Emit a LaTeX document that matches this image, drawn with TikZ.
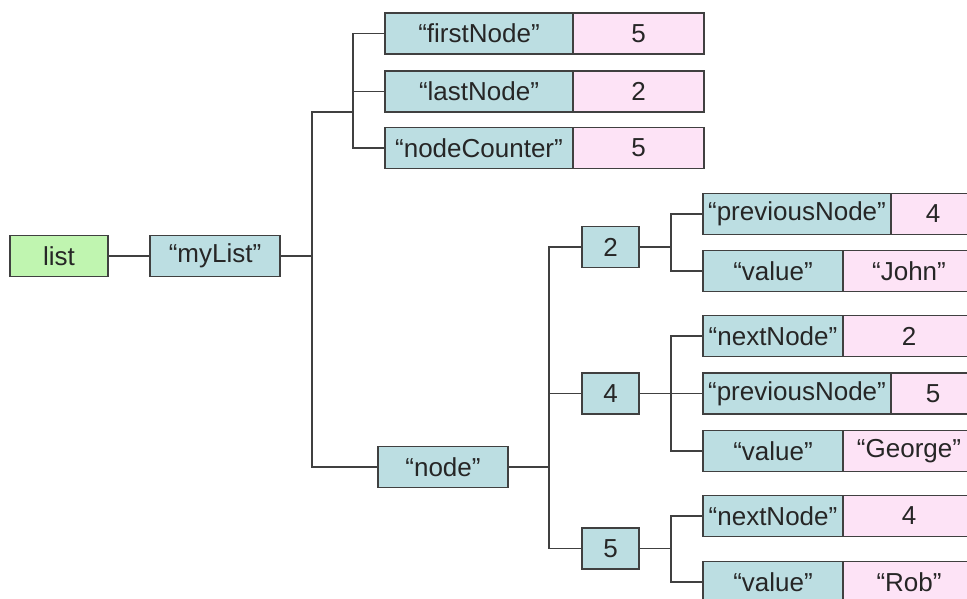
\documentclass[tikz,border=0pt]{standalone}
\usepackage{fontspec}
\setmainfont{Liberation Sans}
\usetikzlibrary{positioning}
\definecolor{keyblue}{RGB}{188,222,226}
\definecolor{valpink}{RGB}{253,227,246}
\definecolor{rootgreen}{RGB}{192,245,176}
\definecolor{linegray}{RGB}{64,64,64}
\tikzset{my_tree/.style={x=1pt,y=-1pt,line width=1.2pt,draw=linegray}}
\tikzset{my_box/.style={draw=linegray, line width=1.2pt, inner sep=0pt, outer sep=0pt, minimum height=41pt, font=\fontsize{26}{30}\selectfont, text=black!85}}
\tikzset{my_key/.style={my_box, fill=keyblue}}
\tikzset{my_value/.style={my_box, fill=valpink}}
\tikzset{my_root/.style={my_box, fill=rootgreen}}

\begin{document}
\begin{tikzpicture}[my_tree]
    %\draw[help lines,step=50] (0,0) grid (967,599);
    \useasboundingbox (0,0) rectangle (967,599);
    \clip (0,0) rectangle (967,599);

    \node[my_root, minimum width=98pt] (list) at (59,256) {list};
    \node[my_key, minimum width=130pt] (myList) at (215,256) {“myList”};

    \node[my_key, minimum width=188pt] (first) at (479,33.5) {“firstNode”};
    \node[my_value, minimum width=131pt, right=0pt of first] (firstVal) {5};
    \node[my_key, minimum width=188pt] (last) at (479,91.5) {“lastNode”};
    \node[my_value, minimum width=131pt, right=0pt of last] (lastVal) {2};
    \node[my_key, minimum width=188pt] (counter) at (479,148) {“nodeCounter”};
    \node[my_value, minimum width=131pt, right=0pt of counter] (counterVal) {5};

    \node[my_key, minimum width=130pt] (node) at (443,467) {“node”};
    \node[my_key, minimum width=57pt] (n2) at (610.5,247) {2};
    \node[my_key, minimum width=57pt] (n4) at (610.5,393.5) {4};
    \node[my_key, minimum width=57pt] (n5) at (610.5,548.5) {5};

    \node[my_key, minimum width=188pt] (prev2) at (797,214) {“previousNode”};
    \node[my_value, minimum width=84pt, right=0pt of prev2] (prev2Val) {4};
    \node[my_key, minimum width=140pt] (val2) at (773,271) {“value”};
    \node[my_value, minimum width=132pt, right=0pt of val2] (val2Val) {“John”};

    \node[my_key, minimum width=140pt] (next4) at (773,336) {“nextNode”};
    \node[my_value, minimum width=132pt, right=0pt of next4] (next4Val) {2};
    \node[my_key, minimum width=188pt] (prev4) at (797,393.5) {“previousNode”};
    \node[my_value, minimum width=84pt, right=0pt of prev4] (prev4Val) {5};
    \node[my_key, minimum width=140pt] (val4) at (773,451) {“value”};
    \node[my_value, minimum width=132pt, right=0pt of val4] (val4Val) {“George”};

    \node[my_key, minimum width=140pt] (next5) at (773,516) {“nextNode”};
    \node[my_value, minimum width=132pt, right=0pt of next5] (next5Val) {4};
    \node[my_key, minimum width=140pt] (val5) at (773,582) {“value”};
    \node[my_value, minimum width=132pt, right=0pt of val5] (val5Val) {“Rob”};

    \coordinate (j0) at (312,256);
    \coordinate (j1) at (312,112);
    \coordinate (j2) at (353,112);
    \coordinate (k0) at (549,467);
    \coordinate (m2) at (671,247);
    \coordinate (m4) at (671,393.5);
    \coordinate (m5) at (671,548.5);

    \draw (list) -- (myList);
    \draw (myList) -- (j0) |- (node);
    \draw (j0) -- (j1) -- (j2);
    \draw (j2) |- (first);
    \draw (j2) |- (last);
    \draw (j2) |- (counter);

    \draw (node) -- (k0);
    \draw (k0) |- (n2);
    \draw (k0) |- (n4);
    \draw (k0) |- (n5);

    \draw (n2) -- (m2);
    \draw (m2) |- (prev2);
    \draw (m2) |- (val2);
    \draw (n4) -- (m4);
    \draw (m4) |- (next4);
    \draw (m4) |- (prev4);
    \draw (m4) |- (val4);
    \draw (n5) -- (m5);
    \draw (m5) |- (next5);
    \draw (m5) |- (val5);
\end{tikzpicture}
\end{document}
